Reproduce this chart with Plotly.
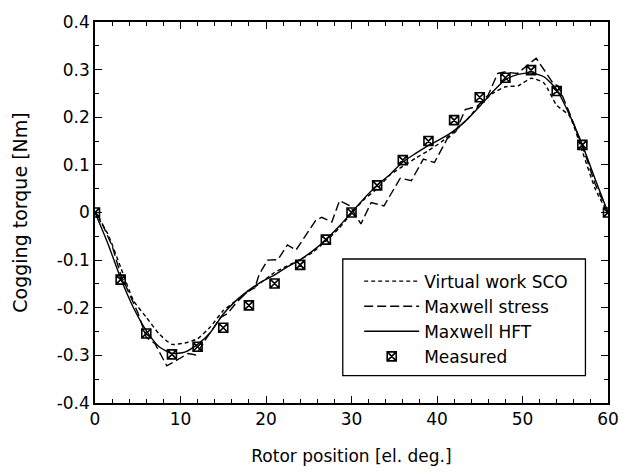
import plotly.graph_objects as go

# ---------------- data ----------------
x_step = [0, 1.5, 3, 4.5, 6, 7.5, 9, 10.5, 12, 13.5, 15, 16.5, 18, 19.5, 21, 22.5,
          24, 25.5, 27, 28.5, 30, 31.5, 33, 34.5, 36, 37.5, 39, 40.5, 42, 43.5, 45,
          46.5, 48, 49.5, 51, 52.5, 54, 55.5, 57, 58.5, 60]

virtual_work_sco = [0, -0.045, -0.115, -0.185, -0.22, -0.255, -0.277, -0.274, -0.265,
                    -0.24, -0.206, -0.185, -0.165, -0.146, -0.126, -0.112, -0.099,
                    -0.083, -0.06, -0.034, -0.002, 0.028, 0.05, 0.079, 0.097, 0.114,
                    0.13, 0.148, 0.17, 0.195, 0.226, 0.25, 0.264, 0.266, 0.282,
                    0.272, 0.225, 0.203, 0.128, 0.05, -0.003]

maxwell_hft = [0, -0.065, -0.138, -0.2, -0.248, -0.282, -0.296, -0.293, -0.277,
               -0.252, -0.213, -0.185, -0.163, -0.145, -0.131, -0.114, -0.099,
               -0.08, -0.057, -0.03, 0.0, 0.03, 0.057, 0.08, 0.106, 0.124, 0.141,
               0.155, 0.172, 0.195, 0.223, 0.253, 0.279, 0.29, 0.293, 0.285, 0.258,
               0.205, 0.142, 0.07, 0]

x_stress = [0, 0.6, 2, 3, 4, 5, 6, 7, 8.4, 9.5, 10.9, 11.8, 13, 14.7, 15.5, 16.5,
            17.9, 18.7, 19.2, 20.2, 21.4, 22.5, 23.5, 25.8, 26.5, 27.7, 28.6, 29.8,
            31.1, 32.3, 33.8, 35.7, 37.0, 38.4, 39.7, 41.2, 42.2, 43.3, 44.7, 46,
            47.1, 47.9, 49.4, 51.6, 53.6, 54.2, 55.5, 57.1, 58.5, 60]
maxwell_stress = [0, -0.014, -0.07, -0.13, -0.17, -0.21, -0.262, -0.275, -0.322,
                  -0.31, -0.296, -0.299, -0.265, -0.22, -0.212, -0.19, -0.165,
                  -0.158, -0.13, -0.1, -0.099, -0.068, -0.079, -0.017, -0.01,
                  -0.02, 0.025, 0.014, -0.024, 0.021, 0.014, 0.072, 0.067, 0.112,
                  0.105, 0.155, 0.17, 0.216, 0.223, 0.247, 0.292, 0.295, 0.292,
                  0.324, 0.271, 0.265, 0.209, 0.134, 0.06, 0]

x_meas = [0, 3, 6, 9, 12, 15, 18, 21, 24, 27, 30, 33, 36, 39, 42, 45, 48, 51, 54, 57, 60]
measured = [0, -0.141, -0.254, -0.298, -0.282, -0.242, -0.195, -0.149, -0.11, -0.057,
            0.0, 0.057, 0.11, 0.15, 0.194, 0.242, 0.283, 0.299, 0.255, 0.142, 0.0]

x_tickvals = [0, 10, 20, 30, 40, 50, 60]
y_tickvals = [-0.4, -0.3, -0.2, -0.1, 0, 0.1, 0.2, 0.3, 0.4]
y_ticktext = ["-0.4", "-0.3", "-0.2", "-0.1", "0", "0.1", "0.2", "0.3", "0.4"]

FONT = "DejaVu Sans, Liberation Sans, Arial, sans-serif"

fig = go.Figure()
fig.add_trace(go.Scatter(x=x_step, y=virtual_work_sco, mode="lines",
                         name="Virtual work SCO",
                         line=dict(color="black", width=1.4, dash="4px,3px",
                                   shape="spline", smoothing=0.5)))
fig.add_trace(go.Scatter(x=x_stress, y=maxwell_stress, mode="lines",
                         name="Maxwell stress",
                         line=dict(color="black", width=1.4, dash="9px,4px")))
fig.add_trace(go.Scatter(x=x_step, y=maxwell_hft, mode="lines",
                         name="Maxwell HFT",
                         line=dict(color="black", width=1.4,
                                   shape="spline", smoothing=0.6)))
fig.add_trace(go.Scatter(x=x_meas, y=measured, mode="markers",
                         name="Measured",
                         marker=dict(symbol="square-x-open", size=9, color="black",
                                     line=dict(width=1.6, color="black"))))

axis_common = dict(showline=True, linecolor="black", linewidth=1.5, mirror="ticks",
                   ticks="inside", ticklen=7, tickwidth=1.3, tickcolor="black",
                   showgrid=False, zeroline=False,
                   tickfont=dict(family=FONT, size=17, color="black"))

fig.update_xaxes(range=[0, 60], tickvals=x_tickvals,
                 minor=dict(ticks="inside", ticklen=4, dtick=2, tickwidth=1.2,
                            tickcolor="black", showgrid=False),
                 title=dict(text="Rotor position [el. deg.]",
                            font=dict(family=FONT, size=17, color="black"),
                            standoff=22),
                 **axis_common)
fig.update_yaxes(range=[-0.4, 0.4], tickvals=y_tickvals, ticktext=y_ticktext,
                 minor=dict(ticks="inside", ticklen=4, dtick=0.05, tickwidth=1.2,
                            tickcolor="black", showgrid=False),
                 title=dict(text="Cogging torque [Nm]",
                            font=dict(family=FONT, size=19, color="black"),
                            standoff=24),
                 **axis_common)

# legend frame (drawn as a shape so its size can match the original box)
fig.add_shape(type="rect", xref="paper", yref="paper",
              x0=0.483, x1=0.956, y0=0.072, y1=0.378,
              line=dict(color="black", width=1.3), fillcolor="white", layer="above")

fig.update_layout(
    width=631, height=476,
    margin=dict(l=95, r=12, t=14, b=73),
    paper_bgcolor="white", plot_bgcolor="white",
    showlegend=True,
    legend=dict(x=0.515, y=0.366, xanchor="left", yanchor="top",
                borderwidth=0, bgcolor="rgba(0,0,0,0)",
                font=dict(family=FONT, size=17, color="black"),
                itemwidth=55, tracegroupgap=0),
    font=dict(family=FONT, color="black"),
)

fig.write_html("out.html")
